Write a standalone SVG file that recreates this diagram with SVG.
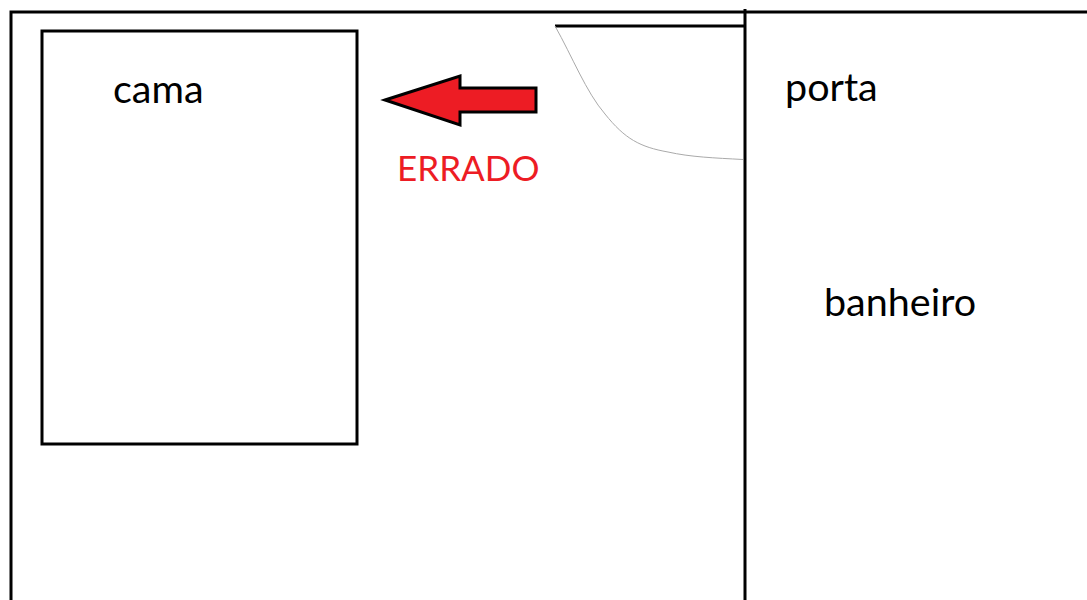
<svg xmlns="http://www.w3.org/2000/svg" width="1087" height="600" viewBox="0 0 1087 600">
<style>
.l{fill:none;stroke:#000;stroke-width:3}
.t{font-family:"Lato","Open Sans","Liberation Sans",sans-serif;font-size:39.500px;fill:#000}
</style>
<rect width="1087" height="600" fill="#fff"/>
<path class="l" d="M1087 12H11V600"/>
<path class="l" d="M745 9V600"/>
<path class="l" d="M555 26H745"/>
<path d="M555 26C572 56 586 92 605 114C625 139 640 147 668 152C690 157 715 158 743 159.500" fill="none" stroke="#aaa" stroke-width="1"/>
<g id="cama"><rect class="l" x="42" y="31" width="315" height="413"/><text class="t" x="113" y="103">cama</text></g>
<g id="seta"><path d="M385 100L460 76V88H536V112H460V125Z" fill="#ed1c24" stroke="#000" stroke-width="3"/></g>
<text x="397" y="180.500" style="font-family:'Lato','Open Sans',sans-serif;font-size:35px;fill:#ed1c24">ERRADO</text>
<text class="t" x="785" y="100.500">porta</text>
<text class="t" x="824" y="315.500">banheiro</text>
</svg>
